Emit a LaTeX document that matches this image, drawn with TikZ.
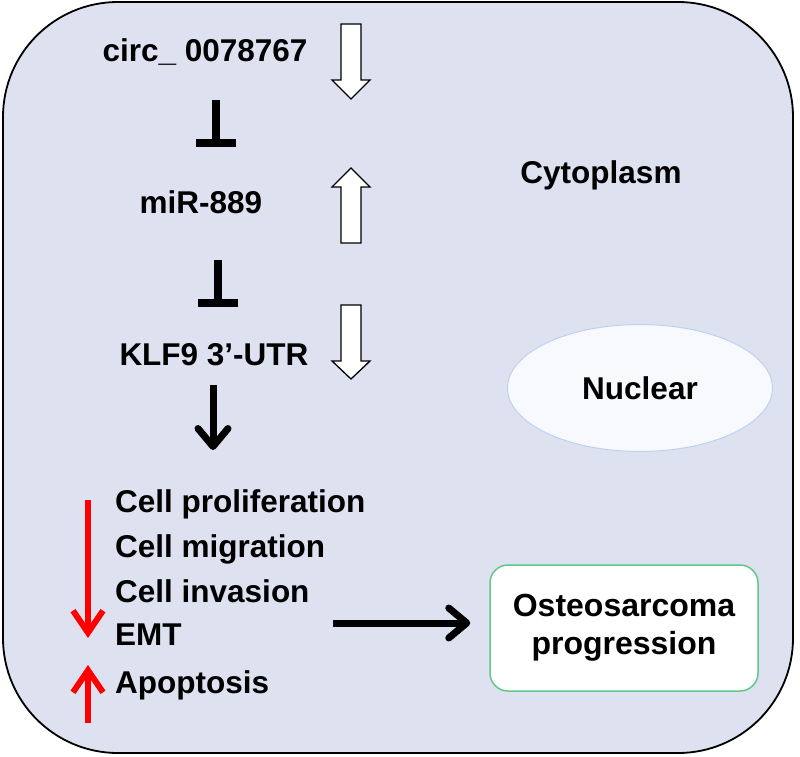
\documentclass[tikz,border=0pt]{standalone}
\usepackage{fontspec}
\setmainfont{Liberation Sans}
\usetikzlibrary{arrows.meta,shapes.geometric}
\definecolor{cellbg}{RGB}{222,225,240}
\definecolor{nucfill}{RGB}{248,249,253}
\definecolor{nucborder}{RGB}{190,210,240}
\definecolor{boxgreen}{RGB}{95,201,140}
\definecolor{redarr}{RGB}{255,0,0}
\tikzset{
  lab/.style={font=\fontsize{31.5}{36}\selectfont\bfseries, inner sep=0pt},
  inh/.style={line width=8pt, -{Bar[width=40pt]}},
  blk/.style={line width=7pt, -{Straight Barb[length=18pt, width=30pt, round]}},
  redup/.style={line width=6pt, draw=redarr, -{Straight Barb[length=22pt, width=30pt]}},
  blockarrow/.style={draw=black, line width=1.3pt, fill=white},
}
\begin{document}
\begin{tikzpicture}[x=1pt,y=-1pt]
\useasboundingbox (0,0) rectangle (800,757);
% cell
\draw[line width=1.8pt, fill=cellbg, rounded corners=115pt] (3,2) rectangle (793,753);
% nucleus
\node[ellipse, draw=nucborder, line width=1pt, fill=nucfill, minimum width=265pt, minimum height=127pt, inner sep=0pt, lab] (nuc) at (640,388) {Nuclear};
% labels
\node[lab, anchor=base] (circ) at (205,62) {circ\_ 0078767};
\node[lab, anchor=base] (mir) at (201,213) {miR-889};
\node[lab, anchor=base] (klf) at (214,365) {KLF9 3’-UTR};
\node[lab, anchor=base] (cyto) at (601,183) {Cytoplasm};
\node[lab, anchor=base west] (prolif) at (115,512) {Cell proliferation};
\node[lab, anchor=base west] (migr) at (115,557) {Cell migration};
\node[lab, anchor=base west] (inva) at (115,602) {Cell invasion};
\node[lab, anchor=base west] (emt) at (115,645) {EMT};
\node[lab, anchor=base west] (apop) at (115,693) {Apoptosis};
% outcome box
\node[draw=boxgreen, line width=1.5pt, fill=white, rounded corners=18pt, minimum width=268pt, minimum height=126pt, align=center, lab, font=\fontsize{32}{36}\selectfont\bfseries] (osteo) at (624,628) {Osteosarcoma\\[2pt]progression};
% inhibition
\coordinate (t1a) at (216,100); \coordinate (t1b) at (216,147);
\draw[inh] (t1a) -- (t1b);
\coordinate (t2a) at (218,260); \coordinate (t2b) at (218,307);
\draw[inh] (t2a) -- (t2b);
% activation
\coordinate (d1a) at (213,385); \coordinate (d1b) at (213,450);
\draw[blk] (d1a) -- (d1b);
\coordinate (hstart) at (333,623);
\draw[blk] (hstart) -- ([xshift=-19pt]hstart -| osteo.west);
% red arrows
\coordinate (rd1) at (88,500); \coordinate (rd2) at (88,638);
\draw[redup] (rd1) -- (rd2);
\coordinate (ru1) at (88,723); \coordinate (ru2) at (88,665);
\draw[redup] (ru1) -- (ru2);
% white block arrows
\draw[blockarrow] (341,24) -- (361,24) -- (361,80) -- (370,80) -- (351,99) -- (332,80) -- (341,80) -- cycle;
\draw[blockarrow] (341,243) -- (361,243) -- (361,187) -- (370,187) -- (351,168) -- (332,187) -- (341,187) -- cycle;
\draw[blockarrow] (341,305) -- (361,305) -- (361,361) -- (370,361) -- (351,379) -- (332,361) -- (341,361) -- cycle;
\end{tikzpicture}
\end{document}
